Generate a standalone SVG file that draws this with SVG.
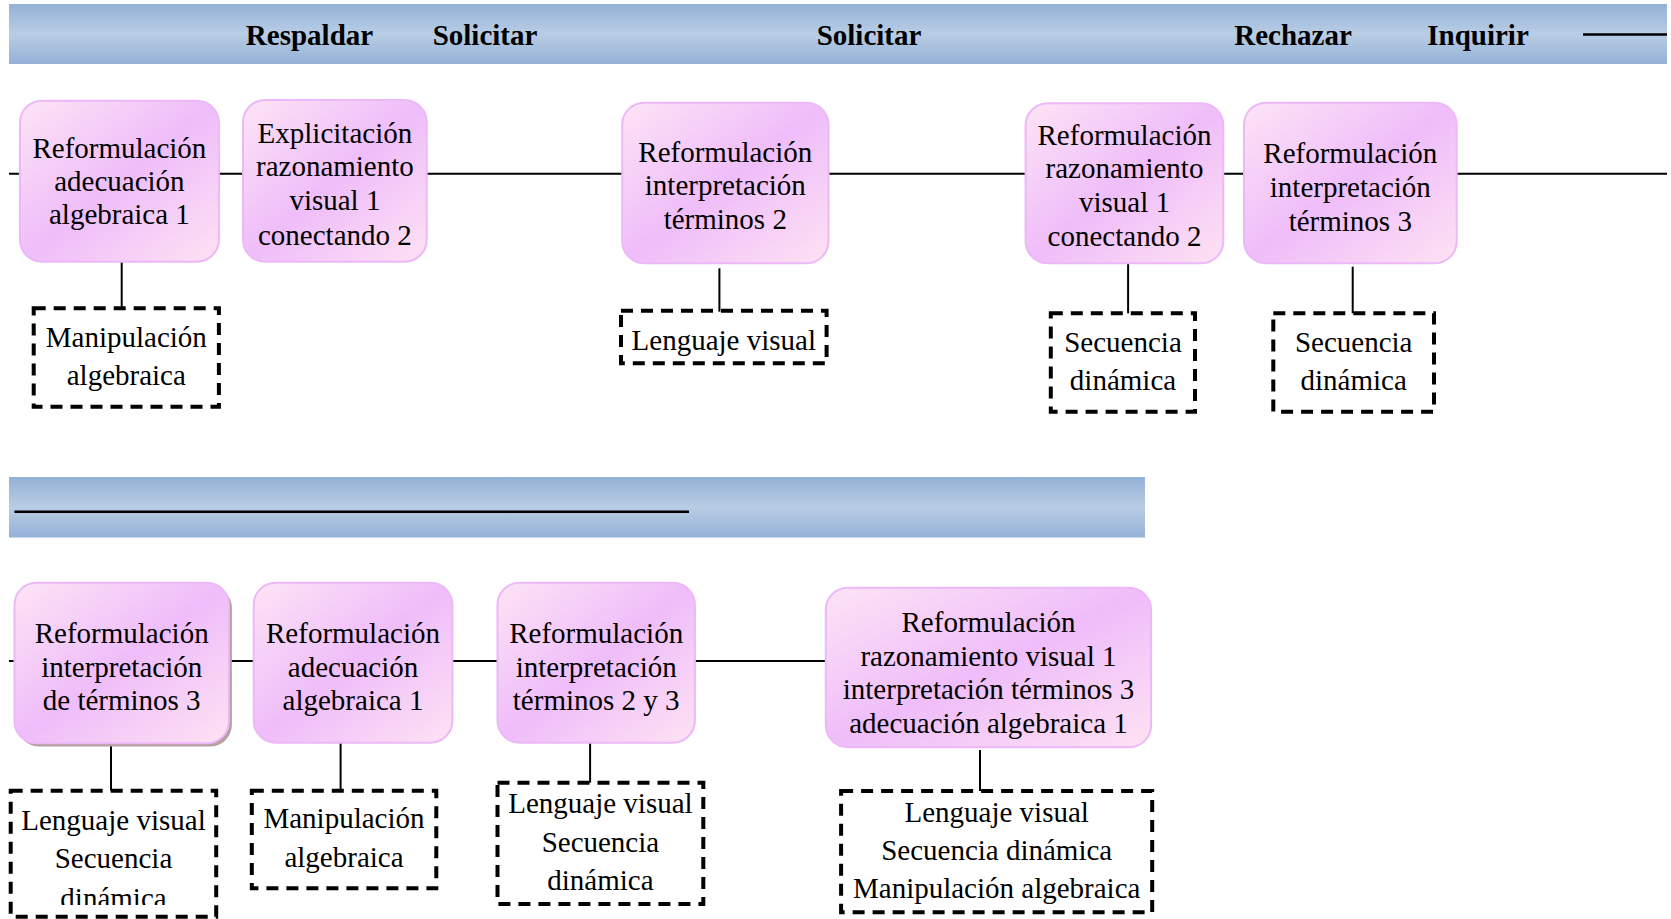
<svg xmlns="http://www.w3.org/2000/svg" width="1671" height="919" viewBox="0 0 1671 919">
  <style>
    text { font-family: "Liberation Serif", "Times New Roman", serif; font-size: 29px; fill: #000; text-anchor: middle; }
    .head { font-weight: bold; }
    .box { fill: url(#nodeFill); stroke: #ecb8f7; stroke-width: 2; }
    .note { fill: none; stroke: #000; stroke-width: 4; stroke-dasharray: 12 8; }
    .band { fill: url(#bandFill); }
    .wire { stroke: #000; stroke-width: 2; fill: none; }
    .rule { stroke: #000; stroke-width: 2.4; }
  </style>
  <defs>
    <linearGradient id="bandFill" x1="0" y1="0" x2="0" y2="1">
      <stop offset="0" stop-color="#93b1d6"/>
      <stop offset="0.5" stop-color="#b9cde5"/>
      <stop offset="1" stop-color="#93b1d6"/>
    </linearGradient>
    <linearGradient id="nodeFill" x1="0" y1="0" x2="1" y2="1">
      <stop offset="0" stop-color="#fde4f5"/>
      <stop offset="0.5" stop-color="#efbdfa"/>
      <stop offset="1" stop-color="#fee2f3"/>
    </linearGradient>
    <clipPath id="noteFClip">
      <rect x="0" y="790" width="230" height="115"/>
    </clipPath>
  </defs>

  <!-- header bands -->
  <g id="band-top">
    <rect class="band" x="9" y="4" width="1658" height="60"/>
    <text class="head" x="309.5" y="45">Respaldar</text>
    <text class="head" x="485" y="45">Solicitar</text>
    <text class="head" x="869" y="45">Solicitar</text>
    <text class="head" x="1293" y="45">Rechazar</text>
    <text class="head" x="1478" y="45">Inquirir</text>
    <line class="rule" x1="1583" y1="34.5" x2="1667" y2="34.5"/>
  </g>
  <g id="band-bottom">
    <rect class="band" x="9" y="477" width="1136" height="60.5"/>
    <line class="rule" x1="14.5" y1="511.7" x2="689" y2="511.7"/>
  </g>

  <!-- connectors -->
  <g id="connectors">
    <line class="wire" x1="9" y1="173.7" x2="1667" y2="173.7"/>
    <line class="wire" x1="121.7" y1="261.7" x2="121.7" y2="308.3"/>
    <line class="wire" x1="719.4" y1="268.3" x2="719.4" y2="311.7"/>
    <line class="wire" x1="1128.1" y1="263.3" x2="1128.1" y2="313.3"/>
    <line class="wire" x1="1352.7" y1="266.7" x2="1352.7" y2="313.3"/>
    <line class="wire" x1="9" y1="661" x2="826" y2="661"/>
    <line class="wire" x1="111" y1="743.3" x2="111" y2="790.7"/>
    <line class="wire" x1="340.6" y1="742.7" x2="340.6" y2="790.7"/>
    <line class="wire" x1="590.1" y1="741.7" x2="590.1" y2="782.7"/>
    <line class="wire" x1="980" y1="750" x2="980" y2="791"/>
  </g>

  <!-- upper row -->
  <g id="node-a">
    <rect class="box" x="19.9" y="100.7" width="199" height="161" rx="22"/>
    <text x="119.4" y="158.3">Reformulación</text>
    <text x="119.4" y="191">adecuación</text>
    <text x="119.4" y="224">algebraica 1</text>
  </g>
  <g id="node-b">
    <rect class="box" x="243" y="100" width="183.7" height="161.7" rx="22"/>
    <text x="334.9" y="142.7">Explicitación</text>
    <text x="334.9" y="176.3">razonamiento</text>
    <text x="334.9" y="210">visual 1</text>
    <text x="334.9" y="244.5">conectando 2</text>
  </g>
  <g id="node-c">
    <rect class="box" x="622.2" y="102.7" width="206.3" height="160.6" rx="22"/>
    <text x="725.3" y="161.7">Reformulación</text>
    <text x="725.3" y="195">interpretación</text>
    <text x="725.3" y="229.3">términos 2</text>
  </g>
  <g id="node-d">
    <rect class="box" x="1025.6" y="103.3" width="197.7" height="160" rx="22"/>
    <text x="1124.5" y="145">Reformulación</text>
    <text x="1124.5" y="178.3">razonamiento</text>
    <text x="1124.5" y="211.7">visual 1</text>
    <text x="1124.5" y="246">conectando 2</text>
  </g>
  <g id="node-e">
    <rect class="box" x="1244" y="102.7" width="212.7" height="160.6" rx="22"/>
    <text x="1350.3" y="163.3">Reformulación</text>
    <text x="1350.3" y="196.7">interpretación</text>
    <text x="1350.3" y="231">términos 3</text>
  </g>

  <g id="note-a">
    <rect class="note" x="33.7" y="308.3" width="185.2" height="98.4"/>
    <text x="126.3" y="346.7">Manipulación</text>
    <text x="126.3" y="385">algebraica</text>
  </g>
  <g id="note-c">
    <rect class="note" x="621" y="310.7" width="205.6" height="52.6"/>
    <text x="723.8" y="350">Lenguaje visual</text>
  </g>
  <g id="note-d">
    <rect class="note" x="1050.8" y="313.3" width="144.2" height="98.4"/>
    <text x="1123" y="351.7">Secuencia</text>
    <text x="1123" y="390">dinámica</text>
  </g>
  <g id="note-e">
    <rect class="note" x="1273.3" y="313.3" width="160.7" height="98.4"/>
    <text x="1353.7" y="351.7">Secuencia</text>
    <text x="1353.7" y="390">dinámica</text>
  </g>

  <!-- lower row -->
  <g id="node-f">
    <rect x="17.5" y="586" width="214.4" height="160.6" rx="22" fill="#b9a0a0"/>
    <rect class="box" x="14.5" y="582.7" width="214.4" height="160.6" rx="22"/>
    <text x="121.7" y="643.3">Reformulación</text>
    <text x="121.7" y="677">interpretación</text>
    <text x="121.7" y="710">de términos 3</text>
  </g>
  <g id="node-g">
    <rect class="box" x="253.7" y="582.7" width="198.7" height="160" rx="22"/>
    <text x="353" y="643.3">Reformulación</text>
    <text x="353" y="677">adecuación</text>
    <text x="353" y="710">algebraica 1</text>
  </g>
  <g id="node-h">
    <rect class="box" x="497.5" y="582.7" width="197.4" height="160" rx="22"/>
    <text x="596.2" y="643.3">Reformulación</text>
    <text x="596.2" y="677">interpretación</text>
    <text x="596.2" y="710">términos 2 y 3</text>
  </g>
  <g id="node-i">
    <rect class="box" x="825.8" y="587.7" width="325.3" height="159.6" rx="22"/>
    <text x="988.5" y="631.7">Reformulación</text>
    <text x="988.5" y="665.5">razonamiento visual 1</text>
    <text x="988.5" y="699.3">interpretación términos 3</text>
    <text x="988.5" y="733">adecuación algebraica 1</text>
  </g>

  <g id="note-f">
    <rect class="note" x="10.7" y="790.7" width="205.5" height="126"/>
    <g clip-path="url(#noteFClip)">
      <text x="113.5" y="830">Lenguaje visual</text>
      <text x="113.5" y="868.3">Secuencia</text>
      <text x="113.5" y="908">dinámica</text>
    </g>
  </g>
  <g id="note-g">
    <rect class="note" x="251.8" y="790.7" width="184.5" height="97.6"/>
    <text x="344" y="828.3">Manipulación</text>
    <text x="344" y="866.7">algebraica</text>
  </g>
  <g id="note-h">
    <rect class="note" x="497.5" y="782.7" width="205.8" height="121.3"/>
    <text x="600.4" y="813.3">Lenguaje visual</text>
    <text x="600.4" y="851.7">Secuencia</text>
    <text x="600.4" y="890">dinámica</text>
  </g>
  <g id="note-i">
    <rect class="note" x="841.1" y="791" width="311.1" height="121.3"/>
    <text x="996.7" y="821.7">Lenguaje visual</text>
    <text x="996.7" y="860">Secuencia dinámica</text>
    <text x="996.7" y="898.3">Manipulación algebraica</text>
  </g>
</svg>
